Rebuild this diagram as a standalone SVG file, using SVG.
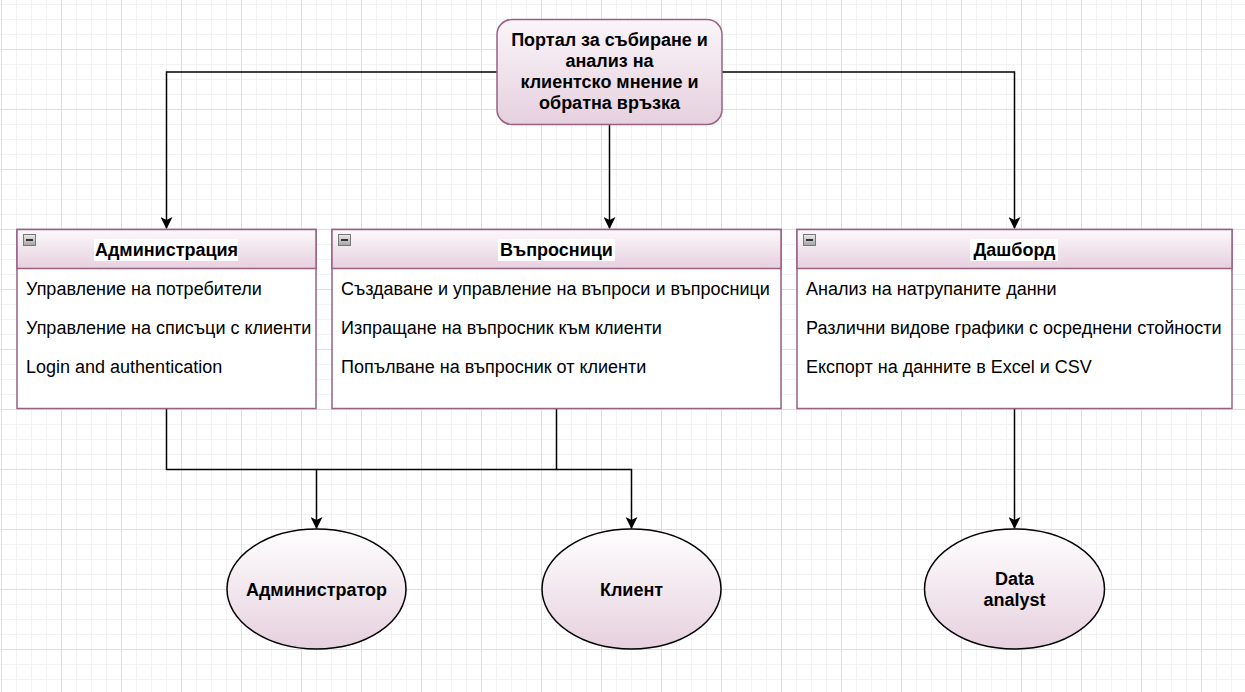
<svg xmlns="http://www.w3.org/2000/svg" width="1245" height="692" viewBox="0 0 1245 692">
<style>
.lane{fill:#ffffff;stroke:#996185;stroke-width:1.5}
.head{fill:url(#gHead);stroke:#996185;stroke-width:1.5}
.item{font-family:"Liberation Sans",Arial,sans-serif;font-size:18px;fill:#000}
.title{font-family:"Liberation Sans",Arial,sans-serif;font-size:18px;font-weight:bold;fill:#000;text-anchor:middle}
.conn{fill:none;stroke:#000;stroke-width:1.5}
.ell{fill:url(#gEll);stroke:#000;stroke-width:1.5}
.lbg{fill:#ffffff}
</style>
<defs>
<pattern id="minor" x="1" y="4" width="15" height="15" patternUnits="userSpaceOnUse">
<path d="M0 0.5H15M0.5 0V15" stroke="#f2f2f2" stroke-width="1" fill="none"/>
</pattern>
<pattern id="major" x="1" y="49" width="60" height="60" patternUnits="userSpaceOnUse">
<path d="M0 0.5H60M0.5 0V60" stroke="#dedede" stroke-width="1" fill="none"/>
</pattern>
<linearGradient id="gHead" x1="0" y1="0" x2="0" y2="1">
<stop offset="0" stop-color="#fcf9fb"/>
<stop offset="1" stop-color="#e6d0de"/>
</linearGradient>
<linearGradient id="gTop" x1="0" y1="0" x2="0" y2="1">
<stop offset="0" stop-color="#faf5f9"/>
<stop offset="1" stop-color="#e6d0de"/>
</linearGradient>
<linearGradient id="gEll" x1="0" y1="0" x2="0" y2="1">
<stop offset="0" stop-color="#ffffff"/>
<stop offset="1" stop-color="#e6d0de"/>
</linearGradient>
<linearGradient id="gBtn" x1="0" y1="0" x2="0" y2="1">
<stop offset="0" stop-color="#ececec"/>
<stop offset="1" stop-color="#a4a4a4"/>
</linearGradient>
<marker id="arr" viewBox="0 0 12 12" refX="11" refY="6" markerWidth="12" markerHeight="12" markerUnits="userSpaceOnUse" orient="auto">
<path d="M0,0 L12,6 L0,12 L3,6 Z" fill="#000"/>
</marker>
<g id="btn">
<rect x="0.5" y="0.5" width="12" height="11" fill="url(#gBtn)" stroke="#777777" stroke-width="1"/>
<rect x="3" y="5" width="7" height="2" fill="#333"/>
</g>
</defs>

<rect x="0" y="0" width="1245" height="692" fill="#ffffff"/>
<rect x="0" y="0" width="1245" height="692" fill="url(#minor)"/>
<rect x="0" y="0" width="1245" height="692" fill="url(#major)"/>

<g id="connectors">
<path class="conn" d="M497,72 H166.5 V228" marker-end="url(#arr)"/>
<path class="conn" d="M609.5,124.5 V228" marker-end="url(#arr)"/>
<path class="conn" d="M722,72 H1014.5 V228" marker-end="url(#arr)"/>
<path class="conn" d="M166.5,409 V469.5 H316.5 V528" marker-end="url(#arr)"/>
<path class="conn" d="M556.5,409 V469.5 H316.5"/>
<path class="conn" d="M556.5,469.5 H631.5 V528" marker-end="url(#arr)"/>
<path class="conn" d="M1014.5,409 V528" marker-end="url(#arr)"/>
</g>

<g id="portal">
<rect x="497" y="19.5" width="225" height="105" rx="15" ry="15" fill="url(#gTop)" stroke="#996185" stroke-width="1.5"/>
<text class="title" x="609.5" y="45.5">Портал за събиране и</text>
<text class="title" x="609.5" y="66.5">анализ на</text>
<text class="title" x="609.5" y="87.5">клиентско мнение и</text>
<text class="title" x="609.5" y="108.5">обратна връзка</text>
</g>

<g id="administration">
<rect class="lane" x="17" y="229.5" width="299" height="179"/>
<rect class="head" x="17" y="229.5" width="299" height="39"/>
<use href="#btn" x="23" y="234"/>
<rect class="lbg" x="94" y="239" width="144" height="22"/>
<text class="title" x="166.5" y="255.5">Администрация</text>
<text class="item" x="26" y="295">Управление на потребители</text>
<text class="item" x="26" y="334">Управление на списъци с клиенти</text>
<text class="item" x="26" y="373">Login and authentication</text>
</g>

<g id="questionnaires">
<rect class="lane" x="332" y="229.5" width="449" height="179"/>
<rect class="head" x="332" y="229.5" width="449" height="39"/>
<use href="#btn" x="338" y="234"/>
<rect class="lbg" x="498" y="239" width="117" height="22"/>
<text class="title" x="556.5" y="255.5">Въпросници</text>
<text class="item" x="341" y="295">Създаване и управление на въпроси и въпросници</text>
<text class="item" x="341" y="334">Изпращане на въпросник към клиенти</text>
<text class="item" x="341" y="373">Попълване на въпросник от клиенти</text>
</g>

<g id="dashboard">
<rect class="lane" x="797" y="229.5" width="435" height="179"/>
<rect class="head" x="797" y="229.5" width="435" height="39"/>
<use href="#btn" x="803" y="234"/>
<rect class="lbg" x="970" y="239" width="88" height="22"/>
<text class="title" x="1014.5" y="255.5">Дашборд</text>
<text class="item" x="806" y="295">Анализ на натрупаните данни</text>
<text class="item" x="806" y="334">Различни видове графики с осреднени стойности</text>
<text class="item" x="806" y="373">Експорт на данните в Excel и CSV</text>
</g>

<g id="administrator">
<ellipse class="ell" cx="316.5" cy="589" rx="89.5" ry="60"/>
<text class="title" x="316.5" y="595.5">Администратор</text>
</g>

<g id="client">
<ellipse class="ell" cx="631.5" cy="589" rx="89.5" ry="60"/>
<text class="title" x="631.5" y="595.5">Клиент</text>
</g>

<g id="data-analyst">
<ellipse class="ell" cx="1014.5" cy="589" rx="90" ry="60"/>
<text class="title" x="1014.5" y="584.5">Data</text>
<text class="title" x="1014.5" y="605.5">analyst</text>
</g>
</svg>
